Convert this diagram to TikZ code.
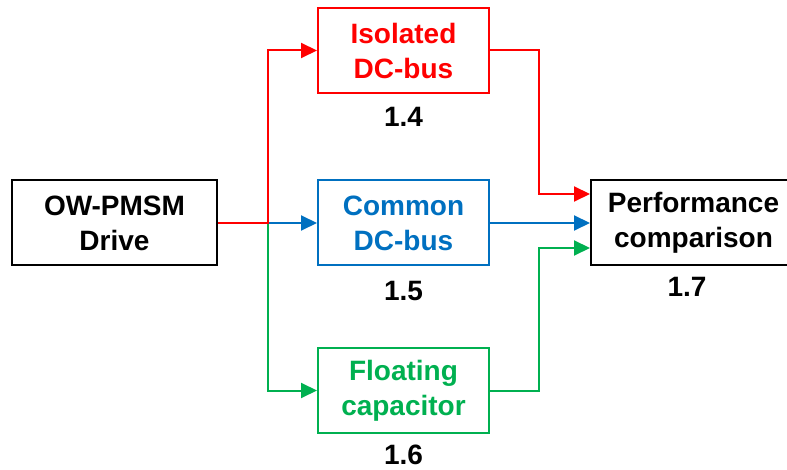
\documentclass[tikz,border=0pt]{standalone}
\usepackage{fontspec}
\setmainfont{Liberation Sans}
\usetikzlibrary{arrows.meta,calc}
\definecolor{cred}{RGB}{255,0,0}
\definecolor{cblue}{RGB}{0,112,192}
\definecolor{cgreen}{RGB}{0,176,80}
\begin{document}
\begin{tikzpicture}[x=1pt,y=-1pt,
  blk/.style={draw,line width=2pt,minimum width=171pt,minimum height=85pt,
    align=center,inner sep=0pt,font=\fontsize{28}{35}\selectfont\bfseries},
  num/.style={font=\fontsize{28}{34}\selectfont\bfseries},
  conn/.style={line width=2pt,-{Triangle[length=16pt,width=15pt]}}]
\useasboundingbox (0,0) rectangle (787,470);
% blocks
\node[blk,minimum width=205pt] (drive) at (114.5,223) {OW-PMSM\\Drive};
\node[blk,draw=cred,text=cred] (iso) at (403.5,50.5) {Isolated\\DC-bus};
\node[blk,draw=cblue,text=cblue] (com) at (403.5,223) {Common\\DC-bus};
\node[blk,draw=cgreen,text=cgreen] (flo) at (403.5,390.5) {Floating\\capacitor};
\node[blk,minimum width=205pt] (perf) at (693.5,223) {Performance\\comparison};
% section numbers
\node[num] (n4) at (403.5,117) {1.4};
\node[num] (n5) at (403.5,291) {1.5};
\node[num] (n6) at (403.5,455) {1.6};
\node[num] (n7) at (687,287) {1.7};
% branching point and inputs of the comparison block
\coordinate (j) at (268,223);
\coordinate (pr) at ($(perf.west)+(0,-29)$);
\coordinate (pg) at ($(perf.west)+(0,25)$);
% outgoing branches
\draw[conn,cgreen] (j) |- (flo.west);
\draw[conn,cblue] (j) -- (com.west);
\draw[conn,cred] (drive.east) -- (j) |- (iso.west);
% merging branches
\draw[conn,cred] (iso.east) -| ($(pr)+(-51,0)$) -- (pr);
\draw[conn,cblue] (com.east) -- (perf.west);
\draw[conn,cgreen] (flo.east) -| ($(pg)+(-51,0)$) -- (pg);
\end{tikzpicture}
\end{document}
